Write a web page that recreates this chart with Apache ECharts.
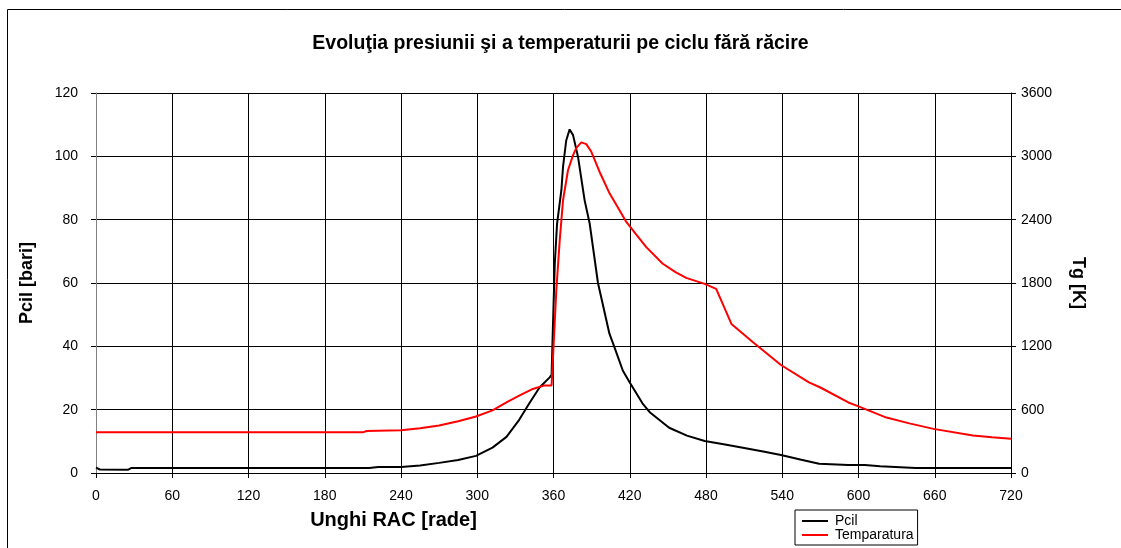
<!DOCTYPE html>
<html>
<head>
<meta charset="utf-8">
<script src="https://cdn.jsdelivr.net/npm/echarts@6/dist/echarts.min.js"></script>
<style>
	html, body { margin: 0; padding: 0; background: #fff; }
	#chart { width: 1121px; height: 548px; }
</style>
</head>
<body>
<div id="chart"></div>
<script>
	// date: unghi RAC [grade] -> valoare
	var pcilAngle = [0, 3, 25, 28, 215, 222, 240, 255, 270, 285, 299, 312, 323, 333, 341, 349, 357, 358.5,
		359.6, 361, 362.8, 366.2, 367.5, 370, 372.7, 375.4, 379.3, 384.5, 388.5, 395, 404, 407, 414.6, 420,
		430, 436, 451, 465, 479, 495, 509, 525, 539, 555, 569, 592, 605, 617, 645, 720];
	var pcilValue = [1.7, 1.1, 1.0, 1.6, 1.6, 1.9, 1.9, 2.4, 3.2, 4.1, 5.4, 8.0, 11.4, 16.8, 22.0, 27.0, 30.2, 31,
		47, 66, 78.7, 89.3, 96.7, 105, 108.5, 106.7, 99.8, 86.1, 78.7, 60, 44, 40.8, 32.3, 28.6,
		22, 19.1, 14.3, 11.8, 10.1, 9.0, 8.0, 6.8, 5.7, 4.2, 2.9, 2.5, 2.5, 2.1, 1.6, 1.6];

	var tempAngle = [0, 210, 213, 240, 255, 270, 285, 299, 312, 323, 333, 343, 353, 358.5, 359.6, 362.2, 364.9,
		367.5, 371.4, 375.4, 378, 381.9, 385.8, 389.8, 396.3, 404.2, 410, 417.3, 425, 433, 446, 456, 464.4,
		479, 488, 500, 517, 539, 561, 570, 592, 599, 622, 640, 659, 690, 705, 720];
	var tempValue = [385, 385, 398, 405, 425, 450, 490, 535, 593, 668, 733, 793, 830, 830, 1095, 1729, 2204,
		2584, 2868, 3011, 3080, 3132, 3116, 3043, 2852, 2647, 2530, 2378, 2260, 2140, 1982, 1903, 1849,
		1792, 1745, 1412, 1238, 1023, 858, 810, 668, 636, 525, 470, 418, 355, 338, 325];

	var xTicks = { min: 0, max: 720, step: 60 };
	var pcilTicks = { min: 0, max: 120, step: 20 };
	var tempTicks = { min: 0, max: 3600, step: 600 };

	function pairs(xs, ys) {
		return xs.map(function(x, i) { return [x, ys[i]]; });
	}

	var font = 'Arial, "Liberation Sans", sans-serif';
	var myChart = echarts.init(document.getElementById('chart'));
	var option = {
		animation: false,
		backgroundColor: '#fff',
		textStyle: { fontFamily: font, color: '#000' },
		title: {
			text: 'Evoluţia presiunii şi a temperaturii pe ciclu fără răcire',
			left: 'center',
			top: 29,
			textStyle: { fontFamily: font, fontSize: 19.5, fontWeight: 'bold', color: '#000' }
		},
		legend: {
			orient: 'vertical',
			left: 795,
			top: 510,
			padding: [4, 4, 3, 6],
			itemGap: 0,
			itemWidth: 26,
			itemHeight: 13,
			borderColor: '#000',
			borderWidth: 1,
			borderRadius: 0,
			itemStyle: { opacity: 0 },
			textStyle: { fontFamily: font, fontSize: 14, lineHeight: 13, color: '#000', padding: [0, 0, 0, 2] },
			data: ['Pcil', 'Temparatura']
		},
		graphic: [{
			type: 'rect',
			silent: true,
			shape: { x: 7.5, y: 9.5, width: 1300, height: 700 },
			style: { fill: 'none', stroke: '#000', lineWidth: 1 }
		}],
		grid: {
			left: 96,
			right: 110,
			top: 93,
			bottom: 75
		},
		xAxis: {
			type: 'value',
			min: xTicks.min,
			max: xTicks.max,
			interval: xTicks.step,
			name: 'Unghi RAC [rade]',
			nameLocation: 'middle',
			nameGap: 37,
			nameTextStyle: { fontFamily: font, fontSize: 20, fontWeight: 'bold', color: '#000', padding: [0, 320, 0, 0] },
			axisLine: { lineStyle: { color: '#000', width: 1 } },
			axisTick: { length: 5, lineStyle: { color: '#000' } },
			axisLabel: { fontFamily: font, fontSize: 14, color: '#000', margin: 16 },
			splitLine: { show: true, lineStyle: { color: '#000', width: 1 } }
		},
		yAxis: [{
			type: 'value',
			position: 'left',
			min: pcilTicks.min,
			max: pcilTicks.max,
			interval: pcilTicks.step,
			name: 'Pcil [bari]',
			nameLocation: 'middle',
			nameGap: 60,
			nameTextStyle: { fontFamily: font, fontSize: 18, fontWeight: 'bold', color: '#000' },
			axisLine: { show: true, lineStyle: { color: '#808080', width: 1 } },
			axisTick: { show: true, length: 5, lineStyle: { color: '#000' } },
			axisLabel: { fontFamily: font, fontSize: 14, color: '#000', margin: 18 },
			splitLine: { show: true, lineStyle: { color: '#000', width: 1 } }
		}, {
			type: 'value',
			position: 'right',
			min: tempTicks.min,
			max: tempTicks.max,
			interval: tempTicks.step,
			name: 'Tg [K]',
			nameLocation: 'middle',
			nameRotate: -90,
			nameGap: 58,
			nameTextStyle: { fontFamily: font, fontSize: 18, fontWeight: 'bold', color: '#000' },
			axisLine: { show: true, lineStyle: { color: '#000', width: 1 } },
			axisTick: { show: true, length: 5, lineStyle: { color: '#000' } },
			axisLabel: {
				fontFamily: font, fontSize: 14, color: '#000', margin: 10,
				formatter: function(v) { return String(v); }
			},
			splitLine: { show: false }
		}],
		series: [{
			name: 'Pcil',
			type: 'line',
			yAxisIndex: 0,
			symbol: 'none',
			color: '#000',
			lineStyle: { color: '#000', width: 2 },
			data: pairs(pcilAngle, pcilValue)
		}, {
			name: 'Temparatura',
			type: 'line',
			yAxisIndex: 1,
			symbol: 'none',
			color: '#ff0000',
			lineStyle: { color: '#ff0000', width: 2 },
			data: pairs(tempAngle, tempValue)
		}]
	};
	myChart.setOption(option);
</script>
</body>
</html>
